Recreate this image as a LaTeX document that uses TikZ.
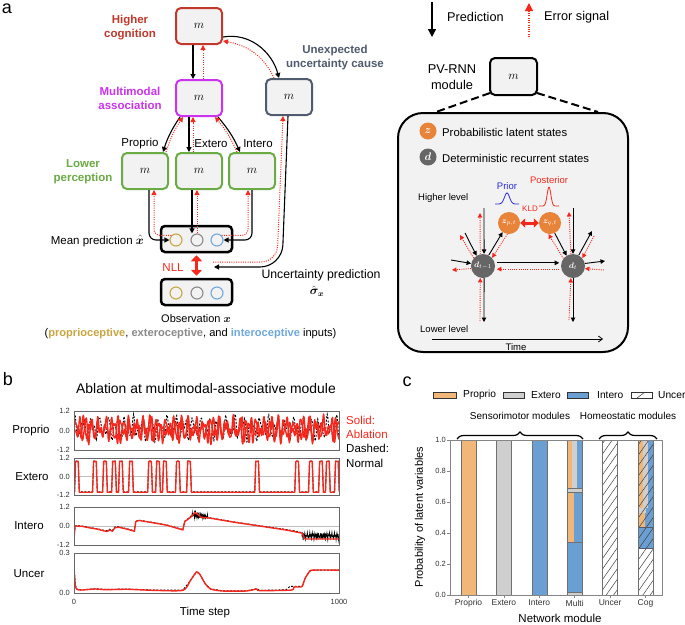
\documentclass[tikz,border=0pt]{standalone}
\usepackage{fontspec}
\setmainfont{Liberation Sans}
\usepackage{bm}
\usetikzlibrary{arrows.meta,patterns.meta,calc,decorations.pathreplacing}
\definecolor{hcred}{HTML}{C0392B}
\definecolor{mmmag}{HTML}{CC33EE}
\definecolor{lpgreen}{HTML}{6AAB45}
\definecolor{uncslate}{HTML}{4F5B6E}
\definecolor{errred}{HTML}{F5281E}
\definecolor{boxfill}{HTML}{F2F2F2}
\definecolor{cgold}{HTML}{C9A640}
\definecolor{cgrey}{HTML}{8A8A8A}
\definecolor{cblue}{HTML}{6FA8DC}
\definecolor{zorange}{HTML}{E8833A}
\definecolor{dgrey}{HTML}{666666}
\definecolor{barorange}{HTML}{F0B778}
\definecolor{bargrey}{HTML}{CFCFCF}
\definecolor{barblue}{HTML}{6A9FD3}
\definecolor{priorblue}{HTML}{2A2AE0}
\definecolor{framegrey}{HTML}{666666}
\definecolor{ticktext}{HTML}{333333}
\definecolor{barline}{HTML}{707070}
\begin{document}
\begin{tikzpicture}[x=1pt,y=-1pt,
  every node/.style={font=\fontsize{11.5}{14}\selectfont, inner sep=0pt},
  mbox/.style={draw, rounded corners=5pt, line width=2pt, fill=boxfill, minimum width=46pt, minimum height=36pt, font=\fontsize{13}{15}\selectfont},
  pred/.style={line width=1.1pt, -{Triangle[length=5pt,width=5pt]}},
  err/.style={errred, line width=1pt, dash pattern=on 1pt off 1.3pt, -{Triangle[length=5pt,width=5pt]}},
  spred/.style={line width=0.9pt, -{Triangle[length=4.5pt,width=4.5pt]}},
  serr/.style={errred, line width=0.9pt, dash pattern=on 1pt off 1.2pt, -{Triangle[length=4.5pt,width=4.5pt]}},
  lbl/.style={font=\fontsize{11.5}{14}\selectfont\bfseries, align=center},
  obsc/.style={circle, draw, line width=1.1pt, minimum size=12pt},
  sbox/.style={draw, line width=2.5pt, rounded corners=4pt, fill=boxfill, minimum width=71pt, minimum height=26pt},
  panel/.style={font=\fontsize{18}{18}\selectfont},
  tick/.style={font=\fontsize{7.5}{8}\selectfont, text=ticktext},
  ctick/.style={font=\fontsize{7.5}{8}\selectfont, text=ticktext},
  zc/.style={circle, fill=zorange, text=white},
  dc/.style={circle, fill=dgrey, text=white},
  datared/.style={errred, line width=1.4pt, line join=round},
  datablack/.style={black, line width=0.9pt, dash pattern=on 2pt off 1.5pt},
  hatch/.style={pattern={Lines[angle=55,distance=6pt,line width=0.5pt]}, pattern color=black!75},
  small/.style={font=\fontsize{9.5}{11}\selectfont},
  leg/.style={font=\fontsize{10.2}{12}\selectfont},
]
\useasboundingbox (0,0) rectangle (685,624);
\fill[white] (0,0) rectangle (685,624);

%================ Panel a (left) ================
\node[panel] (la) at (7,9) {a};
\node[mbox, draw=hcred] (hc) at (199,26) {$m$};
\node[mbox, draw=mmmag] (mm) at (199,98) {$m$};
\node[mbox, draw=uncslate] (uu) at (289,97) {$m$};
\node[mbox, draw=lpgreen] (lp1) at (145,171) {$m$};
\node[mbox, draw=lpgreen] (lp2) at (199,171) {$m$};
\node[mbox, draw=lpgreen] (lp3) at (252,171) {$m$};
\node[lbl, text=hcred] (thc) at (130,27.5) {Higher\\cognition};
\node[lbl, text=mmmag] (tmm) at (130,98) {Multimodal\\association};
\node[lbl, text=uncslate] (tuu) at (335,58) {Unexpected\\uncertainty cause};
\node[lbl, text=lpgreen] (tlp) at (83,172) {Lower\\perception};
\node (tp) at (140,144) {Proprio};
\node (te) at (211,144) {Extero};
\node (ti) at (258,144) {Intero};

\draw[pred] ([xshift=-6pt]hc.south) -- ([xshift=-6pt]mm.north);
\draw[err] ([xshift=4pt]mm.north) -- ([xshift=4pt]hc.south);
\draw[pred] ([yshift=-11pt]hc.east) to[out=10,in=105] ([xshift=-10pt]uu.north);
\draw[err] ([xshift=-15pt]uu.north) to[out=115,in=-10] ([yshift=-15pt]hc.east);

\draw[pred] ([xshift=-19pt]mm.south) to[bend right=8] ([xshift=18pt]lp1.north);
\draw[err] ([xshift=21pt]lp1.north) to[bend left=8] ([xshift=-16pt]mm.south);
\draw[pred] ([xshift=-10pt]mm.south) -- ([xshift=-10pt]lp2.north);
\draw[err] ([xshift=-6pt]lp2.north) -- ([xshift=-6pt]mm.south);
\draw[pred] ([xshift=19pt]mm.south) to[bend left=8] ([xshift=-12pt]lp3.north);
\draw[err] ([xshift=-15pt]lp3.north) to[bend right=8] ([xshift=16pt]mm.south);

\node[sbox] (mean) at (196.5,239) {};
\node[obsc, draw=cgold] (c1) at (176,240) {};
\node[obsc, draw=cgrey] (c2) at (197,240) {};
\node[obsc, draw=cblue] (c3) at (217,240) {};
\node[sbox] (obs) at (196.5,292) {};
\node[obsc, draw=cgold] (o1) at (176,293) {};
\node[obsc, draw=cgrey] (o2) at (197,293) {};
\node[obsc, draw=cblue] (o3) at (217,293) {};

\draw[pred, rounded corners=7pt] ([xshift=4pt]lp1.south) |- (c1.west);
\draw[err, rounded corners=6pt] (c1.north west) -| ([xshift=9pt]lp1.south);
\draw[pred] ([xshift=-7pt]lp2.south) -- ([xshift=-7pt]lp2.south |- c2.north);
\draw[err] (c2.north) -- (c2.north |- lp2.south);
\draw[pred, rounded corners=7pt] (lp3.south) |- (c3.east);
\draw[err, rounded corners=6pt] (c3.north east) -| ([xshift=-4pt]lp3.south);

\coordinate (uuend) at (214,267);
\coordinate (uustart) at (213,262);
\draw[pred, rounded corners=22pt] ([xshift=-1pt]uu.south) -- (282,267) -- (uuend);
\draw[err, rounded corners=16pt] (uustart) -- (277,262) -- ([xshift=-6pt]uu.south);

\draw[errred, line width=3.5pt, {Triangle[length=6pt,width=11pt]}-{Triangle[length=6pt,width=11pt]}] ([yshift=-2pt]mean.south) -- ([yshift=2pt]obs.north);

\node[anchor=east] (tmean) at (144,241) {Mean prediction $\hat{\bm{x}}$};
\node[text=errred] (tnll) at (173,268) {NLL};
\node[font=\fontsize{11}{13}\selectfont] (tobs) at (196,319) {Observation $\bm{x}$};
\node[font=\fontsize{11.1}{13}\selectfont] (tinp) at (190.5,334) {(\textcolor{cgold}{\bfseries proprioceptive}, \textcolor{cgrey}{\bfseries exteroceptive}, and \textcolor{cblue}{\bfseries interoceptive} inputs)};
\node[font=\fontsize{12.3}{14}\selectfont] (tunc) at (321,275) {Uncertainty prediction};
\node[font=\fontsize{12}{14}\selectfont] (tsig) at (317,291) {$\hat{\bm{\sigma}}_{\bm{x}}$};

%================ Panel a (right) ================
\coordinate (lgA) at (432,2); \coordinate (lgB) at (432,37);
\draw[line width=1.3pt, -{Triangle[length=8pt,width=8pt]}] (lgA) -- (lgB);
\node[anchor=west, font=\fontsize{12.7}{15}\selectfont] (tpred) at (447,17) {Prediction};
\coordinate (lgC) at (529,37); \coordinate (lgD) at (529,3);
\draw[errred, line width=1.2pt, dash pattern=on 1pt off 1.3pt, -{Triangle[length=8pt,width=8pt]}] (lgC) -- (lgD);
\node[anchor=west, font=\fontsize{12.7}{15}\selectfont] (terr) at (544,17) {Error signal};

\node[draw, line width=2pt, rounded corners=25pt, fill=boxfill, minimum width=230pt, minimum height=239pt] (big) at (513,232.5) {};
\draw[line width=2pt, dash pattern=on 8pt off 4pt] (490,93) -- ([xshift=39pt]big.north west);
\draw[line width=2pt, dash pattern=on 8pt off 4pt] (537,93) -- ([xshift=-31pt]big.north east);
\node[mbox, draw=black, minimum width=47pt, minimum height=37pt] (pv) at (513.5,76.5) {$m$};
\node[align=center, font=\fontsize{12.8}{16}\selectfont] (tpv) at (452,77) {PV-RNN\\module};

\node[zc, minimum size=17pt, font=\fontsize{11}{13}\selectfont] (zl) at (428,131) {$\bm{z}$};
\node[dc, minimum size=17pt, font=\fontsize{11}{13}\selectfont] (dl) at (428,157) {$\bm{d}$};
\node[anchor=west, font=\fontsize{11.3}{13}\selectfont] (tzl) at (442,132) {Probabilistic latent states};
\node[anchor=west, font=\fontsize{11.3}{13}\selectfont] (tdl) at (442,158) {Deterministic recurrent states};

\node[anchor=west, small] (thl) at (418,198) {Higher level};
\node[small, text=priorblue] (tprior) at (507,186) {Prior};
\draw[priorblue, line width=0.8pt] plot[domain=495:519, samples=40] (\x, {204-11*exp(-((\x-507)/3.6)^2)});
\node[small, text=errred] (tpost) at (549,180) {Posterior};
\draw[errred, line width=0.8pt] plot[domain=539:559, samples=40] (\x, {206-19*exp(-((\x-549)/2.6)^2)});

\node[zc, minimum size=22pt, font=\fontsize{8}{9}\selectfont] (zp) at (509,223) {$\bm{z}_{p,t}$};
\node[zc, minimum size=22pt, font=\fontsize{8}{9}\selectfont] (zq) at (550,223) {$\bm{z}_{q,t}$};
\draw[errred, line width=3pt, {Triangle[length=5pt,width=9pt]}-{Triangle[length=5pt,width=9pt]}] (zp.east) -- (zq.west);
\node[text=errred, font=\fontsize{8}{9}\selectfont] (tkld) at (530,209) {KLD};

\node[dc, minimum size=24pt, font=\fontsize{8}{9}\selectfont] (dp) at (483,266) {$\bm{d}_{t-1}$};
\node[dc, minimum size=24pt, font=\fontsize{8}{9}\selectfont] (dt) at (573,266) {$\bm{d}_{t}$};

\draw[spred] ($(dp)+(1,-58)$) -- (dp.85);
\draw[serr] (dp.103) -- ($(dp)+(-3,-53)$);
\draw[spred] ($(dp)+(-18,-33)$) -- (dp.122);
\draw[serr] (dp.140) -- ($(dp)+(-23,-31)$);
\draw[spred] (dp.62) -- (zp.235);
\draw[serr] (zp.262) -- (dp.42);
\draw[spred] ($(dp)+(-32,-6)$) -- (dp.168);
\draw[serr] (dp.192) -- ($(dp)+(-31,4)$);
\draw[spred, shorten <=2pt, shorten >=2pt] (dp.15) -- (dt.165);
\draw[serr, shorten <=2pt, shorten >=2pt] (dt.195) -- (dp.345);
\draw[spred] (dp.275) -- ($(dp)+(1,56)$);
\draw[serr] ($(dp)+(-3,55)$) -- (dp.257);

\draw[spred] ($(dt)+(0,-58)$) -- (dt.north);
\draw[serr] (dt.100) -- ($(dt)+(-4,-54)$);
\draw[spred] (zq.295) -- (dt.122);
\draw[serr] (dt.142) -- (zq.262);
\draw[spred] (dt.62) -- ($(dt)+(19,-35)$);
\draw[serr] ($(dt)+(21,-30)$) -- (dt.40);
\draw[spred] (dt.12) -- ($(dt)+(32,-5)$);
\draw[serr] ($(dt)+(31,4)$) -- (dt.348);
\draw[spred] (dt.south) -- ($(dt)+(0,56)$);
\draw[serr] ($(dt)+(-4,54)$) -- (dt.260);

\node[anchor=west, small] (tll) at (420,329) {Lower level};
\coordinate (tA) at (432,339); \coordinate (tB) at (603,339);
\draw[line width=0.8pt, -{Straight Barb[length=4pt,width=6pt]}] (tA) -- (tB);
\node[small] (ttime) at (516,347) {Time};

%================ Panel b ================
\node[panel] (lb) at (8,379) {b};
\node[font=\fontsize{13.9}{15}\selectfont] (tb) at (206,389) {Ablation at multimodal-associative module};

% Proprio
\begin{scope}
\clip (74,411) rectangle (339,450);
\begin{scope}[shift={(74,430.5)}, x=0.265pt, y=16.25pt]
\draw[datablack] plot[domain=0:1000,samples=450] (\x,{0.15+0.45*sin(11.3*mod(\x,31.858)+70)+0.3*sin(19.7*mod(\x,18.274))+0.15*sin(29.1*mod(\x,12.371))});
\draw[datared] plot[domain=0:1000,samples=450] (\x,{0.1+0.45*sin(12.7*mod(\x,28.346))+0.3*sin(21.1*mod(\x,17.062)+40)+0.2*sin(31.7*mod(\x,11.356)+100)});
\draw[datared] plot[domain=0:1000,samples=450] (\x,{0.05+0.45*sin(14.9*mod(\x,24.161)+150)+0.3*sin(17.9*mod(\x,20.112)+10)+0.2*sin(27.3*mod(\x,13.187)+200)});
\end{scope}
\end{scope}
\draw[framegrey, line width=0.8pt] (74,411) rectangle (339,450);

% Extero
\draw[black!25, line width=0.6pt] (74,476.5) -- (339,476.5);
\begin{scope}
\clip (74,458) rectangle (339,495);
\begin{scope}[shift={(74,476.5)}, x=0.265pt, y=15.4pt]
\draw[datablack] (0,-1) \foreach \p in {11,79,117,151,177,215,287,317,343,392,434,691,842,894,932,958,992} { -- (\p-9,-1) -- (\p-5,1) -- (\p+5,1) -- (\p+9,-1) } -- (1000,-1);
\draw[datared] (0,-1.02) \foreach \p in {11,79,117,151,177,215,287,317,343,392,434,691,842,894,932,958,992} { -- (\p-9,-1.02) -- (\p-5,0.98) -- (\p+5,0.98) -- (\p+9,-1.02) } -- (1000,-1.02);
\end{scope}
\end{scope}
\draw[framegrey, line width=0.8pt] (74,458) rectangle (339,495);

% Intero
\draw[black!25, line width=0.6pt] (74,526) -- (339,526);
\begin{scope}
\clip (74,507) rectangle (339,545);
\begin{scope}[shift={(74,526)}, x=0.265pt, y=15.83pt]
\draw[datablack] plot coordinates {(0,-0.7) (4,-0.02) (8,0.02) (30,0.0) (60,-0.1) (90,-0.18) (110,-0.26) (125,-0.3) (135,-0.2) (145,-0.28) (155,-0.05) (170,-0.05) (200,-0.17) (228,-0.3) (233,0.3) (245,0.37) (300,0.22) (350,0.07) (411,-0.22) (418,0.3) (440,0.6) (457,0.95) (470,0.75) (480,0.62) (513,0.52) (600,0.27) (700,0.02) (800,-0.22) (830,-0.3) (845,-0.36) (860,-0.42) (872,-0.6)};
\draw[black, line width=0.8pt] plot[domain=445:505,samples=45] (\x,{0.6+0.15*abs(sin(97*mod(\x,3.7113)))+0.08*sin(151*mod(\x,2.3841))-0.002*(\x-445)});
\draw[black, line width=0.8pt] plot[domain=860:1000,samples=90] (\x,{-0.78+0.25*abs(sin(97*mod(\x,3.7113)))+0.12*sin(151*mod(\x,2.3841))});
\draw[datared] plot coordinates {(0,-0.8) (4,-0.05) (8,0.0) (30,-0.02) (60,-0.12) (90,-0.2) (110,-0.3) (125,-0.35) (135,-0.25) (145,-0.33) (155,-0.1) (170,-0.08) (200,-0.2) (228,-0.33) (233,0.28) (245,0.35) (300,0.2) (350,0.05) (411,-0.25) (418,0.28) (440,0.55) (457,0.85) (470,0.7) (480,0.55) (513,0.5) (600,0.25) (700,0.0) (800,-0.25) (830,-0.35) (845,-0.4) (860,-0.45) (872,-0.82) (1000,-0.82)};
\end{scope}
\end{scope}
\draw[framegrey, line width=0.8pt] (74,507) rectangle (339,545);

% Uncer
\begin{scope}
\clip (74,553) rectangle (339,593);
\begin{scope}[shift={(74,593)}, x=0.265pt, y=133.3pt]
\draw[datablack] plot coordinates {(0,0.19) (5,0.06) (10,0.03) (25,0.024) (80,0.032) (120,0.027) (200,0.03) (300,0.022) (411,0.022) (438,0.09) (462,0.157) (475,0.14) (495,0.07) (515,0.032) (560,0.017) (650,0.017) (690,0.032) (700,0.02) (800,0.024) (815,0.05) (830,0.05) (860,0.05) (872,0.11) (890,0.165) (905,0.172) (1000,0.172)};
\draw[datared] plot[smooth, tension=0.4] coordinates {(0,0.195) (5,0.06) (10,0.03) (25,0.022) (80,0.03) (120,0.025) (200,0.028) (300,0.02) (411,0.02) (438,0.09) (462,0.158) (475,0.14) (495,0.07) (515,0.03) (560,0.015) (650,0.015) (690,0.03) (700,0.018) (820,0.022) (830,0.045) (860,0.048) (872,0.11) (890,0.165) (905,0.172) (1000,0.172)};
\end{scope}
\end{scope}
\draw[framegrey, line width=0.8pt] (74,553) rectangle (339,593);

% tick labels b
\node[tick, anchor=east] (b1a) at (70,411) {1.2};
\node[tick, anchor=east] (b1b) at (70,430.5) {0.0};
\node[tick, anchor=east] (b1c) at (70,450) {-1.2};
\node[tick, anchor=east] (b2a) at (70,458) {1.2};
\node[tick, anchor=east] (b2b) at (70,476.5) {0.0};
\node[tick, anchor=east] (b2c) at (70,495) {-1.2};
\node[tick, anchor=east] (b3a) at (70,507) {1.2};
\node[tick, anchor=east] (b3b) at (70,526) {0.0};
\node[tick, anchor=east] (b3c) at (70,545) {-1.2};
\node[tick, anchor=east] (b4a) at (70,553) {0.3};
\node[tick, anchor=east] (b4b) at (70,593) {0.0};
\node[tick] (bx0) at (74,602) {0};
\node[tick] (bx1) at (339,602) {1000};
\node (bylab1) at (31,430.5) {Proprio};
\node (bylab2) at (32,477) {Extero};
\node (bylab3) at (29,526) {Intero};
\node (bylab4) at (29,574) {Uncer};
\node (bxlab) at (205,613) {Time step};
\node[anchor=west, align=left, font=\fontsize{11.5}{14.3}\selectfont] (blegend) at (346,441.5) {\textcolor{errred}{Solid:}\\\textcolor{errred}{Ablation}\\Dashed:\\Normal};

%================ Panel c ================
\node[panel] (lc) at (407,382) {c};
\fill[barorange] (433,392) rectangle (456,398); \draw[black!80, line width=0.6pt] (433,392) rectangle (456,398);
\node[anchor=west, leg] (lgp) at (463,395) {Proprio};
\fill[bargrey] (503,392) rectangle (524,398); \draw[black!80, line width=0.6pt] (503,392) rectangle (524,398);
\node[anchor=west, leg] (lge) at (531,395) {Extero};
\fill[barblue] (567,392) rectangle (588,398); \draw[black!80, line width=0.6pt] (567,392) rectangle (588,398);
\node[anchor=west, leg] (lgi) at (597,395) {Intero};
\draw[black!80, line width=0.6pt] (631,392) rectangle (652,398);
\draw[black!80, line width=0.5pt] (637,398) -- (645,392);
\node[anchor=west, leg] (lgu) at (658,395) {Uncer};

\node[font=\fontsize{10}{12}\selectfont] (tsens) at (520,416) {Sensorimotor modules};
\node[font=\fontsize{10}{12}\selectfont] (thomeo) at (628,416) {Homeostatic modules};
\draw[line width=1.2pt, decorate, decoration={brace, amplitude=7pt}] (457,439) -- (583,439);
\draw[line width=1.2pt, decorate, decoration={brace, amplitude=7pt}] (599,439) -- (657,439);

% bars
\fill[barorange] (461,440) rectangle (476,595); \draw[barline, line width=0.5pt] (461,440) rectangle (476,595);
\fill[bargrey] (496.4,440) rectangle (511.4,595); \draw[barline, line width=0.5pt] (496.4,440) rectangle (511.4,595);
\fill[barblue] (531.8,440) rectangle (546.8,595); \draw[barline, line width=0.5pt] (531.8,440) rectangle (546.8,595);
% Multi
\fill[barorange] (567.2,440) rectangle (572.2,488);
\fill[bargrey] (572.2,440) rectangle (577.2,488);
\fill[barblue] (577.2,440) rectangle (582.2,488);
\fill[bargrey] (567.2,488) rectangle (582.2,492);
\fill[barorange] (567.2,492) rectangle (574.2,542);
\fill[barblue] (574.2,492) rectangle (582.2,542);
\fill[barblue] (567.2,542) rectangle (582.2,592);
\fill[bargrey] (567.2,592) rectangle (582.2,595);
\draw[barline, line width=0.4pt] (567.2,488) -- (582.2,488) (567.2,492) -- (582.2,492) (567.2,542) -- (582.2,542) (567.2,592) -- (582.2,592);
\draw[barline, line width=0.5pt] (567.2,440) rectangle (582.2,595);
% Uncer
\fill[white] (602.6,440) rectangle (617.6,595);
\fill[hatch] (602.6,440) rectangle (617.6,595);
\draw[barline, line width=0.5pt] (602.6,440) rectangle (617.6,595);
% Cog
\fill[barorange] (638,440) rectangle (643,508);
\fill[bargrey] (643,440) rectangle (647.5,508);
\fill[barblue] (647.5,440) rectangle (653,508);
\fill[bargrey] (638,508) rectangle (646,513);
\fill[barblue] (646,508) rectangle (653,513);
\fill[barorange] (638,513) rectangle (645,527);
\fill[barblue] (645,513) rectangle (653,527);
\fill[barblue] (638,527) rectangle (653,548);
\fill[white] (638,548) rectangle (653,595);
\fill[hatch] (638,440) rectangle (653,595);
\draw[uncslate, line width=0.6pt] (638,527) rectangle (653,548);
\draw[barline, line width=0.5pt] (638,440) rectangle (653,595);

\draw[framegrey!80, line width=0.8pt] (450,440) rectangle (662,595);
\foreach \v/\lab [count=\i] in {0/0.0, 0.2/0.2, 0.4/0.4, 0.6/0.6, 0.8/0.8, 1/1.0} {
  \draw[framegrey!80, line width=0.6pt] (447,{595-155*\v}) -- (450,{595-155*\v});
  \node[ctick, anchor=east] (cy\i) at (446,{595-155*\v}) {\lab};
}
\foreach \xc/\lab [count=\i] in {468.5/Proprio, 503.9/Extero, 539.3/Intero, 574.7/Multi, 610.1/Uncer, 645.5/Cog} {
  \draw[framegrey!80, line width=0.6pt] (\xc,595) -- (\xc,598);
  \node[font=\fontsize{8.5}{10}\selectfont, text=ticktext] (cx\i) at (\xc,603) {\lab};
}
\node[rotate=90, font=\fontsize{11}{13}\selectfont] (cylab) at (420,517) {Probability of latent variables};
\node (cxlab) at (560,618.5) {Network module};
\end{tikzpicture}
\end{document}
